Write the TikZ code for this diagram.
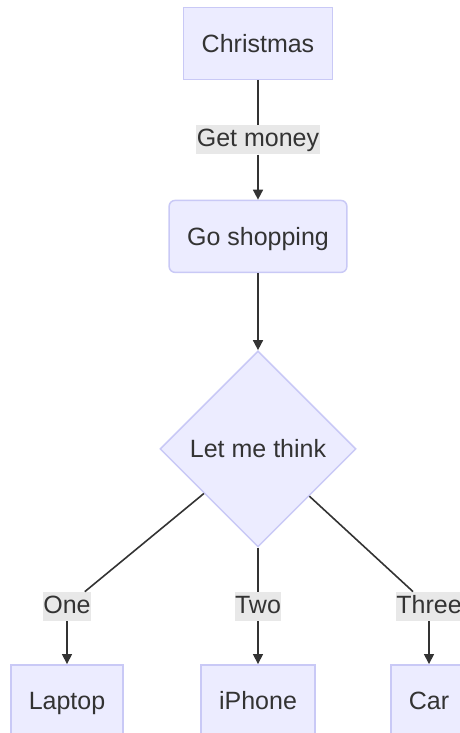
\documentclass[tikz,border=0pt]{standalone}
\usepackage{fontspec}
\setmainfont{Liberation Sans}
\usetikzlibrary{positioning,shapes.geometric,arrows.meta}
\definecolor{nodefill}{HTML}{ECECFF}
\definecolor{nodeline}{HTML}{C9C9F6}
\definecolor{labelfill}{HTML}{E8E8E8}
\definecolor{ink}{HTML}{333333}

\begin{document}
\begin{tikzpicture}[x=1pt,y=1pt,
font=\fontsize{25}{30}\selectfont, text=ink,
box/.style={rectangle, draw=nodeline, fill=nodefill, line width=1.5pt, inner xsep=18pt, text height=21pt, text depth=3pt, minimum height=72pt},
roundbox/.style={box, rounded corners=6pt},
choice/.style={diamond, draw=nodeline, fill=nodefill, line width=1.5pt, aspect=1, minimum size=196pt, inner sep=0pt},
edgelabel/.style={fill=labelfill, inner xsep=0.5pt, inner ysep=0.5pt, text height=21pt, text depth=7pt},
plain/.style={draw=ink, line width=1.6pt},
link/.style={plain, -{Triangle[length=10pt,width=10pt]}}
]
\useasboundingbox (0,0) rectangle (460,-733);

\node[box](christmas) at (258,-43.5){Christmas};
\node[edgelabel](get_money)[below=45pt of christmas]{Get money};
\node[roundbox](go_shopping)[below=45pt of get_money]{Go shopping};
\node[choice](think)[below=77pt of go_shopping]{Let me think};

\node[edgelabel](one)[below=44pt of think,xshift=-191pt]{One};
\node[edgelabel](two)[below=44pt of think]{Two};
\node[edgelabel](three)[below=44pt of think,xshift=171pt]{Three};

\node[box](laptop)[below=43pt of one]{Laptop};
\node[box](iphone)[below=43pt of two]{iPhone};
\node[box](car)[below=43pt of three]{Car};

\draw[plain] (christmas) -- (get_money);
\draw[link] (get_money) -- (go_shopping);
\draw[link] (go_shopping) -- (think);

\draw[plain] (think) -- (one);
\draw[plain] (think) -- (two);
\draw[plain] (think) -- (three);
\draw[link] (one) -- (laptop);
\draw[link] (two) -- (iphone);
\draw[link] (three) -- (car);
\end{tikzpicture}
\end{document}
